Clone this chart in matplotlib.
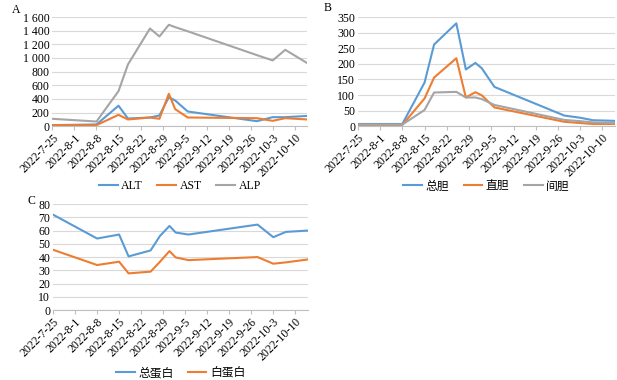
import numpy as np
import matplotlib.pyplot as plt
import matplotlib.dates as mdates
from matplotlib.ticker import FuncFormatter
import datetime as dt

plt.rcParams['font.family'] = ['Liberation Serif', 'Noto Sans CJK SC']
plt.rcParams['font.size'] = 8

dates = ['2022-07-25', '2022-08-08', '2022-08-15', '2022-08-18', '2022-08-25', '2022-08-28',
         '2022-08-31', '2022-09-02', '2022-09-06', '2022-09-28', '2022-10-03', '2022-10-07',
         '2022-10-14']

# panel A
alt = [15, 25, 300, 112, 127, 157, 425, 377, 215, 73, 132, 132, 150]
ast = [15, 15, 166, 98, 127, 108, 475, 250, 127, 117, 78, 117, 98]
alp = [108, 68, 514, 905, 1433, 1316, 1487, 1453, 1392, 1042, 964, 1120, 925]

# panel B
tbil = [7, 7, 140, 262, 330, 182, 203, 186, 126, 34, 27, 19, 17]
dbil = [4, 4, 89, 156, 218, 92, 109, 99, 60, 14, 10, 7, 7]
ibil = [5, 5, 52, 108, 110, 92, 92, 87, 68, 20, 16, 12, 10]

# panel C
tp = [72, 54, 57, 40.5, 45, 56, 63.5, 58.5, 57, 64.5, 55, 59, 60]
alb = [45.5, 34, 36.5, 27.7, 29, 36.5, 44.5, 39.7, 37.7, 40, 35, 36, 38.2]

colors = ['#5B9BD5', '#ED7D31', '#A5A5A5']

x = [dt.datetime.strptime(d, '%Y-%m-%d') for d in dates]
ticks = [dt.datetime(2022, 7, 25) + dt.timedelta(days=7 * i) for i in range(12)]


def dateLabel(v, pos):
    d = mdates.num2date(v)
    return '%d-%d-%d' % (d.year, d.month, d.day)


def spaced(v, pos):
    return '{:,.0f}'.format(v).replace(',', ' ')


def setupAxis(ax, ylim, ystep, fmt=None):
    ax.set_xlim(x[0], x[-1])
    ax.set_ylim(0, ylim)
    ax.set_yticks(np.arange(0, ylim + 1, ystep))
    ax.set_xticks(ticks)
    ax.xaxis.set_major_formatter(FuncFormatter(dateLabel))
    if fmt:
        ax.yaxis.set_major_formatter(FuncFormatter(fmt))
    for lbl in ax.get_xticklabels():
        lbl.set_rotation(45)
        lbl.set_ha('right')
        lbl.set_rotation_mode('anchor')
    ax.grid(axis='y', color='#D9D9D9', linewidth=0.8)
    ax.set_axisbelow(True)
    for s in ['top', 'right', 'left']:
        ax.spines[s].set_visible(False)
    ax.spines['bottom'].set_color('#BFBFBF')
    ax.tick_params(axis='y', length=0, pad=2, labelsize=8.5)
    ax.tick_params(axis='x', length=3, color='#BFBFBF', pad=1, labelsize=8.5)


fig = plt.figure(figsize=(6.17, 3.8), dpi=100)
axA = fig.add_axes([0.085, 0.668, 0.413, 0.287])
axB = fig.add_axes([0.58, 0.668, 0.417, 0.287])
axC = fig.add_axes([0.086, 0.184, 0.413, 0.279])

for series, name, c in zip([alt, ast, alp], ['ALT', 'AST', 'ALP'], colors):
    axA.plot(x, series, color=c, linewidth=1.5, label=name)
setupAxis(axA, 1600, 200, spaced)

for series, name, c in zip([tbil, dbil, ibil], ['总胆', '直胆', '间胆'], colors):
    axB.plot(x, series, color=c, linewidth=1.5, label=name)
setupAxis(axB, 350, 50)

for series, name, c in zip([tp, alb], ['总蛋白', '白蛋白'], colors):
    axC.plot(x, series, color=c, linewidth=1.5, label=name)
setupAxis(axC, 80, 10)

for ax, off in [(axA, -0.40), (axB, -0.40), (axC, -0.44)]:
    ax.legend(loc='upper center', bbox_to_anchor=(0.5, off), ncol=3, frameon=False,
              fontsize=8.5, handlelength=1.6, handletextpad=0.3, columnspacing=1.2)

fig.text(12 / 617, 1 - 10 / 380, 'A', fontsize=8.5, va='center')
fig.text(324 / 617, 1 - 8 / 380, 'B', fontsize=8.5, va='center')
fig.text(28 / 617, 1 - 201 / 380, 'C', fontsize=8.5, va='center')

fig.savefig('out.png', dpi=100)
